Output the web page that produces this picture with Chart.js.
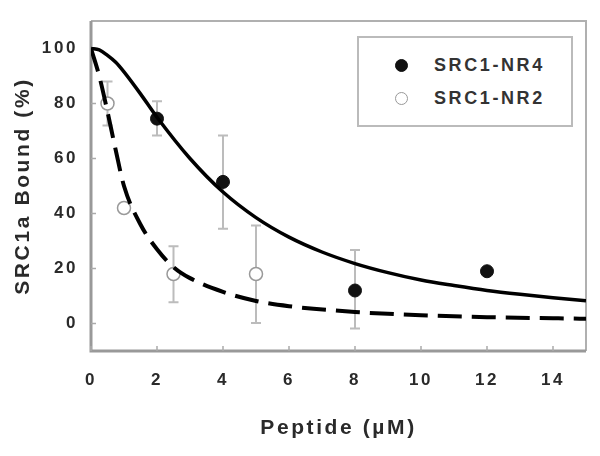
<!DOCTYPE html>
<html lang="en">
<head>
<meta charset="UTF-8">
<title>SRC1a Bound vs Peptide</title>
<script src="https://cdn.jsdelivr.net/npm/chart.js"></script>
<style>
  body{margin:0;background:#fff;font-family:"Liberation Sans",Arial,sans-serif}
  .wrap{position:relative;width:600px;height:456px}
  #legend{position:absolute;left:357px;top:36px;width:212px;height:87px;border:2px solid #bbb;background:#fff}
  #legend .row{position:absolute;left:0;height:24px;display:flex;align-items:center}
  #legend .dot{width:13px;height:13px;border-radius:50%;margin-left:36px;margin-right:26px;box-sizing:border-box}
  #legend .txt{font-weight:700;font-size:18px;letter-spacing:2.6px;color:#333}
</style>
</head>
<body>
<div class="wrap">
  <canvas id="chart" width="600" height="456"></canvas>
  <div id="legend"></div>
</div>
<script>
// measured points
const nr4X   = [2, 4, 8, 12];
const nr4Y   = [74.5, 51.5, 12, 19];
const nr4Lo  = [68.4, 34.5, -1.8, null];
const nr4Hi  = [80.8, 68.4, 26.7, null];

const nr2X   = [0.5, 1, 2.5, 5];
const nr2Y   = [80, 42, 18, 18];
const nr2Lo  = [72, null, 7.7, 0.2];
const nr2Hi  = [88, null, 28.1, 35.6];

// fitted curves
const nr4FitX = [0, 0.25, 0.5, 0.75, 1, 1.5, 2, 3, 4, 5, 6, 7, 8, 9, 10, 11, 12, 13, 14, 15];
const nr4FitY = [100, 99.5, 97.5, 95, 91.5, 83.5, 75, 60, 47.8, 38.5, 31.4, 26, 21.8, 18.5, 15.8, 13.8, 12, 10.6, 9.4, 8.3];
const nr2FitX = [0, 0.25, 0.5, 0.75, 1, 1.5, 2, 2.5, 3, 4, 5, 6, 8, 10, 12, 14, 15];
const nr2FitY = [100, 90, 77, 63, 50, 36, 27, 20.5, 16.5, 11.5, 8.2, 6.3, 4.2, 3, 2.3, 1.9, 1.7];

const xTicks = [0, 2, 4, 6, 8, 10, 12, 14];
const yTicks = [0, 20, 40, 60, 80, 100];
const seriesNames = ['SRC1-NR4', 'SRC1-NR2'];

const pts = (xs, ys) => xs.map((x, i) => ({x: x, y: ys[i]}));
const tickFont = {family: '"Liberation Sans", Arial, sans-serif', size: 17, weight: 'bold'};
const titleFont = {family: '"Liberation Sans", Arial, sans-serif', size: 21, weight: 'bold'};

const spacing = {
  id: 'spacing',
  beforeLayout(c){ c.ctx.letterSpacing = '2.6px'; },
  beforeDraw(c){ c.ctx.letterSpacing = '2.6px'; }
};

const frame = {
  id: 'frame',
  beforeDatasetsDraw(c){
    const {ctx, chartArea: a, scales: {x, y}} = c;
    ctx.save();
    // error bars
    ctx.strokeStyle = '#bcbcbc';
    ctx.lineWidth = 2;
    const bars = (xs, lo, hi) => xs.forEach((v, i) => {
      if (lo[i] == null) return;
      const px = x.getPixelForValue(v), p1 = y.getPixelForValue(lo[i]), p2 = y.getPixelForValue(hi[i]);
      ctx.beginPath();
      ctx.moveTo(px, p1); ctx.lineTo(px, p2);
      ctx.moveTo(px - 5, p1); ctx.lineTo(px + 5, p1);
      ctx.moveTo(px - 5, p2); ctx.lineTo(px + 5, p2);
      ctx.stroke();
    });
    bars(nr4X, nr4Lo, nr4Hi);
    bars(nr2X, nr2Lo, nr2Hi);
    // frame
    ctx.strokeStyle = '#b0b0b0';
    ctx.lineWidth = 2;
    ctx.beginPath();
    ctx.moveTo(a.left, a.top); ctx.lineTo(a.right, a.top); ctx.lineTo(a.right, a.bottom);
    ctx.stroke();
    ctx.strokeStyle = '#999';
    ctx.lineWidth = 3;
    ctx.beginPath();
    ctx.moveTo(a.left, a.top); ctx.lineTo(a.left, a.bottom); ctx.lineTo(a.right, a.bottom);
    ctx.stroke();
    // inner tick marks
    ctx.lineWidth = 1.5;
    ctx.strokeStyle = '#aaa';
    ctx.beginPath();
    xTicks.forEach(v => { const px = x.getPixelForValue(v); ctx.moveTo(px, a.bottom); ctx.lineTo(px, a.bottom - 5); });
    yTicks.forEach(v => { const py = y.getPixelForValue(v); ctx.moveTo(a.left, py); ctx.lineTo(a.left + 5, py); });
    ctx.stroke();
    ctx.restore();
  }
};

const chart = new Chart(document.getElementById('chart'), {
  type: 'scatter',
  data: {
    datasets: [
      {label: seriesNames[0] + ' fit', type: 'line', data: pts(nr4FitX, nr4FitY), borderColor: '#000', borderWidth: 3.5,
       pointRadius: 0, cubicInterpolationMode: 'monotone', fill: false, order: 0},
      {label: seriesNames[1] + ' fit', type: 'line', data: pts(nr2FitX, nr2FitY), borderColor: '#000', borderWidth: 4,
       borderDash: [24, 10], pointRadius: 0, cubicInterpolationMode: 'monotone', fill: false, order: 0},
      {label: seriesNames[0], data: pts(nr4X, nr4Y), backgroundColor: '#111', borderColor: '#111', pointRadius: 6.5, order: 1},
      {label: seriesNames[1], data: pts(nr2X, nr2Y), backgroundColor: '#fff', borderColor: '#999', borderWidth: 1.5, pointRadius: 6.5, order: 1}
    ]
  },
  options: {
    responsive: false,
    animation: false,
    layout: {padding: {left: 0, right: 14, top: 21, bottom: 0}},
    plugins: {legend: {display: false}, tooltip: {enabled: false}},
    scales: {
      x: {
        type: 'linear', min: 0, max: 15,
        grid: {display: false}, border: {display: false},
        afterBuildTicks: s => { s.ticks = xTicks.map(v => ({value: v})); },
        afterFit: s => { s.height = 105; },
        ticks: {font: tickFont, color: '#2a2a2a', padding: 11, maxRotation: 0},
        title: {display: true, text: 'Peptide (\u00b5M)', font: titleFont, color: '#2a2a2a', padding: {top: 0, bottom: 15}}
      },
      y: {
        type: 'linear', min: -10, max: 110,
        grid: {display: false}, border: {display: false},
        afterBuildTicks: s => { s.ticks = yTicks.map(v => ({value: v})); },
        afterFit: s => { s.width = 91; },
        ticks: {font: tickFont, color: '#2a2a2a', padding: 5},
        title: {display: true, text: 'SRC1a Bound (%)', font: titleFont, color: '#2a2a2a', padding: {top: 11, bottom: 0}}
      }
    }
  },
  plugins: [spacing, frame]
});

// legend inside the plot, from the point datasets
const leg = document.getElementById('legend');
chart.data.datasets.filter(d => d.type !== 'line').forEach((d, i) => {
  const row = document.createElement('div');
  row.className = 'row';
  row.style.top = (15 + i * 33) + 'px';
  const dot = document.createElement('span');
  dot.className = 'dot';
  dot.style.background = d.backgroundColor;
  dot.style.border = '1.5px solid ' + d.borderColor;
  const txt = document.createElement('span');
  txt.className = 'txt';
  txt.textContent = d.label;
  row.appendChild(dot); row.appendChild(txt);
  leg.appendChild(row);
});
</script>
</body>
</html>
